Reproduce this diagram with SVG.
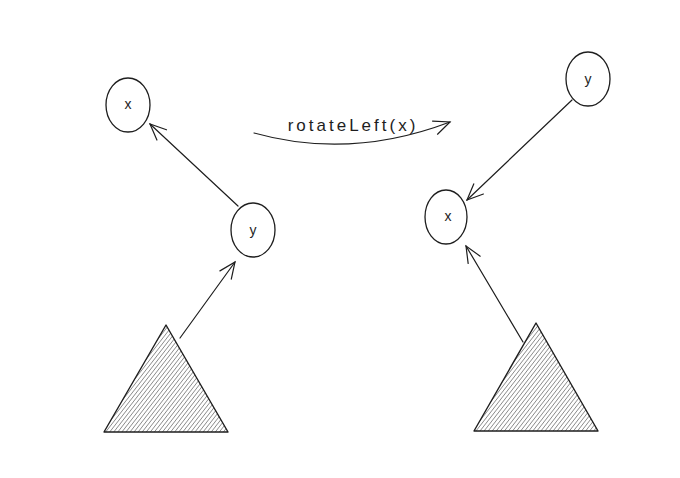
<svg xmlns="http://www.w3.org/2000/svg" width="680" height="478" viewBox="0 0 680 478">
<defs>
<style>
.node{fill:none;stroke:#1e1e1e;stroke-width:1.3}
.lbl{font-family:"Liberation Sans",sans-serif;font-size:14px;fill:#1e1e1e;text-anchor:middle}
.elbl{font-family:"Liberation Sans",sans-serif;font-size:17px;letter-spacing:3px;fill:#1e1e1e;text-anchor:middle}
.edge{fill:none;stroke:#1e1e1e;stroke-width:1.2;stroke-linecap:round}
.tri{fill:url(#hatch);stroke:#1e1e1e;stroke-width:1.4;stroke-linejoin:round}
</style>
<pattern id="hatch" patternUnits="userSpaceOnUse" width="3.2" height="3.2" patternTransform="rotate(38)">
<line x1="0" y1="0" x2="0" y2="3.2" stroke="#444" stroke-width="1"/>
</pattern>
<marker id="arr" viewBox="0 0 20 20" refX="18" refY="10" markerWidth="20" markerHeight="20" markerUnits="userSpaceOnUse" orient="auto">
<path d="M2,3 L18,10 L2,17" fill="none" stroke="#1e1e1e" stroke-width="1.2" stroke-linecap="round"/>
</marker>
</defs>
<rect width="680" height="478" fill="#fff"/>
<g id="connectors">
<line class="edge" x1="238" y1="206" x2="150" y2="124" marker-end="url(#arr)"/>
<line class="edge" x1="180" y1="338" x2="235" y2="262" marker-end="url(#arr)"/>
<line class="edge" x1="572" y1="100" x2="467" y2="200" marker-end="url(#arr)"/>
<line class="edge" x1="523" y1="342" x2="466" y2="246" marker-end="url(#arr)"/>
<path class="edge" d="M254,133 Q350,160 450,122" marker-end="url(#arr)"/>
<text class="elbl" x="353" y="131">rotateLeft(x)</text>
</g>
<g id="left-x">
<ellipse class="node" cx="128" cy="105" rx="22" ry="27"/>
<text class="lbl" x="128" y="109">x</text>
</g>
<g id="left-y">
<ellipse class="node" cx="253" cy="230" rx="22" ry="27"/>
<text class="lbl" x="253" y="235">y</text>
</g>
<g id="left-tree">
<polygon class="tri" points="166,325 104,432 228,432"/>
</g>
<g id="right-y">
<ellipse class="node" cx="588" cy="79" rx="22" ry="27"/>
<text class="lbl" x="588" y="84">y</text>
</g>
<g id="right-x">
<ellipse class="node" cx="446" cy="217" rx="21" ry="27"/>
<text class="lbl" x="448" y="221">x</text>
</g>
<g id="right-tree">
<polygon class="tri" points="536,323 474,431 598,431"/>
</g>
</svg>
